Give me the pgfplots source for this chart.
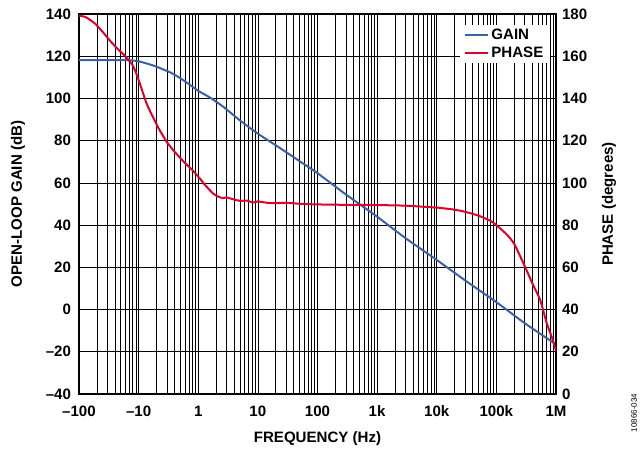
\documentclass[border=0pt]{standalone}
\usepackage{pgfplots}
\pgfplotsset{compat=1.18}
\usepackage{fontspec}
\setmainfont{Liberation Sans}
\definecolor{gainblue}{RGB}{59,98,168}
\definecolor{phasered}{RGB}{226,0,42}
\newcommand{\lblfont}{\bfseries\fontsize{11.3}{13.5}\selectfont}
\begin{document}
\begin{tikzpicture}
\useasboundingbox (0,0) rectangle (480pt,338.25pt);
\begin{axis}[
  at={(59.25pt,42.75pt)}, anchor=south west,
  scale only axis, width=357.75pt, height=285pt,
  xmode=log, xmin=0.01, xmax=1e6,
  tick style={draw=none},
  tick label style={font=\lblfont},
  label style={font=\lblfont},
  axis line style={line width=1pt},
  ymin=-40, ymax=140,
  ytick={-40,-20,0,20,40,60,80,100,120,140},
  yticklabels={\textendash40,\textendash20,0,20,40,60,80,100,120,140},
  xtick={0.01,0.1,1,10,100,1000,10000,100000,1000000},
  xticklabels={\textendash100,\textendash10,1,10,100,1k,10k,100k,1M},
  minor xtick={0.02,0.03,0.04,0.05,0.06,0.07,0.08,0.09,
    0.2,0.3,0.4,0.5,0.6,0.7,0.8,0.9,
    2,3,4,5,6,7,8,9,20,30,40,50,60,70,80,90,
    200,300,400,500,600,700,800,900,
    2000,3000,4000,5000,6000,7000,8000,9000,
    20000,30000,40000,50000,60000,70000,80000,90000,
    200000,300000,400000,500000,600000,700000,800000,900000},
  grid=both,
  major grid style={black, line width=0.55pt},
  minor grid style={black, line width=0.55pt},
  xlabel={FREQUENCY (Hz)},
  ylabel={OPEN-LOOP GAIN (dB)},
  xlabel style={at={(axis description cs:0.5,0)}, yshift=-33.4pt, anchor=center},
  ylabel style={at={(axis description cs:-0.128,0.5)}, anchor=center},
  yticklabel style={xshift=-2.5pt},
  xticklabel style={yshift=-5.5pt},
]
\addplot[gainblue, line width=1.5pt, smooth, tension=0.35] coordinates {
(0.01,118.2) (0.04,118.2) (0.07,118.1) (0.1,117.6) (0.176,115.6)
(0.336,112.4) (0.5,109.6) (0.73,106.4) (1,103.6) (1.58,100.4)
(2.62,96.1) (5,89.6) (10,83.3) (20,77.8) (50,70.3) (100,64.6)
(300,54.5) (1000,44) (3000,33.8) (10000,23.5) (30000,13.8)
(100000,3.5) (300000,-6.5) (1000000,-16.5)
};
\end{axis}
\begin{axis}[
  at={(59.25pt,42.75pt)}, anchor=south west,
  scale only axis, width=357.75pt, height=285pt,
  xmode=log, xmin=0.01, xmax=1e6,
  tick style={draw=none},
  tick label style={font=\lblfont},
  label style={font=\lblfont},
  axis x line=none,
  axis y line*=right,
  axis line style={line width=1pt},
  ymin=0, ymax=180,
  ytick={0,20,40,60,80,100,120,140,160,180},
  yticklabels={0,20,40,60,80,100,120,140,160,180},
  yticklabel style={xshift=1pt},
  ylabel={PHASE (degrees)},
  ylabel style={at={(axis description cs:1.111,0.5)}, anchor=center},
  legend style={at={(axis description cs:0.988,0.972)}, anchor=north east,
    fill=white, draw=none, font=\lblfont, row sep=0pt,
    inner xsep=3pt, inner ysep=1pt},
  legend cell align=left,
  legend image code/.code={\draw[#1] (0pt,0pt) -- (17pt,0pt);},
]
\addlegendimage{gainblue, line width=1.5pt}
\addlegendentry{GAIN}
\addplot[phasered, line width=1.5pt, smooth, tension=0.35] coordinates {
(0.01,179.2) (0.013,178.5) (0.0185,175.5) (0.025,171.5) (0.033,167.4)
(0.045,163.3) (0.0553,161) (0.077,156.3) (0.09,152.3) (0.105,147)
(0.136,137.6) (0.18,130.3) (0.228,124.7) (0.3,119.2) (0.38,115.5)
(0.55,110.5) (0.8,106) (1.07,102) (1.3,99) (1.77,95) (2.2,93.4)
(2.6,92.8) (3,93.1) (3.8,92.3) (5,91.5) (6.6,91.6) (8.3,90.7) (10,91.2)
(15,90.5) (20,90.4) (30,90.6) (50,90.1) (100,89.8) (300,89.6)
(1000,89.5) (3000,89.2) (10000,88.3) (20000,87.3) (30000,86.3)
(50000,84.5) (80000,82) (100000,80) (150000,75.5) (200000,71)
(300000,60.5) (400000,52.5) (543000,44.5) (700000,33.5) (850000,27)
(1000000,20.5)
};
\addlegendentry{PHASE}
\end{axis}
\node[rotate=90, font=\fontsize{6}{7}\selectfont] at (475.5pt,28.5pt) {10866-034};
\end{tikzpicture}
\end{document}
